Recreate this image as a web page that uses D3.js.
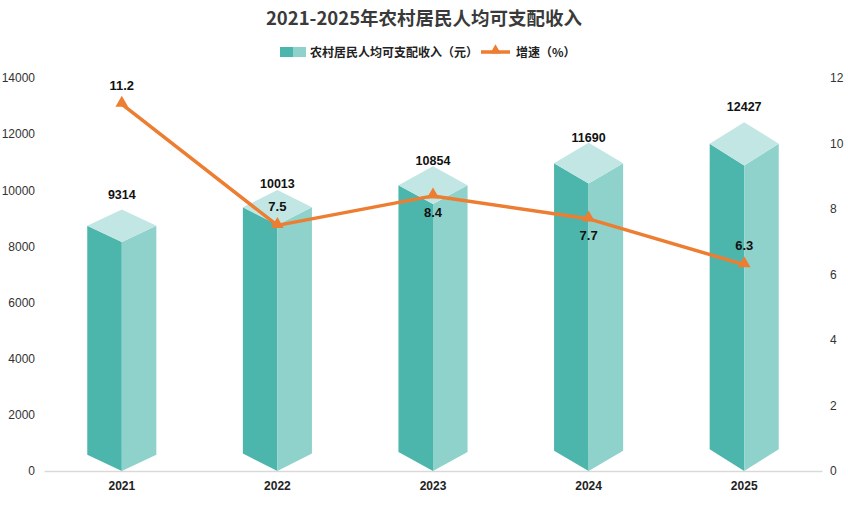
<!DOCTYPE html>
<html><head><meta charset="utf-8">
<script src="https://cdn.jsdelivr.net/npm/d3@7/dist/d3.min.js"></script>
<style>
body{margin:0;background:#fff;}
svg{display:block;}
text{font-family:"Liberation Sans","Noto Sans CJK SC",Arial,sans-serif;}
</style></head>
<body>
<svg id="chart" width="848" height="506"></svg>
<script>
const years = ["2021","2022","2023","2024","2025"];
const income = [9314, 10013, 10854, 11690, 12427];
const growth = [11.2, 7.5, 8.4, 7.7, 6.3];
const leftTicks = [0,2000,4000,6000,8000,10000,12000,14000];
const rightTicks = [0,2,4,6,8,10,12];
const growthLabelSide = ["top","top","bottom","bottom","top"];
const incomeLabelGap = [15,6,6,5,16];

const svg = d3.select("#chart");
const W = 848, H = 506;
const m = {left:44, right:26, top:78, bottom:35};
const x = d3.scaleBand().domain(years).range([m.left, W-m.right]).padding(0);
const yL = d3.scaleLinear().domain([0,14000]).range([H-m.bottom, m.top]);
const yR = d3.scaleLinear().domain([0,12]).range([H-m.bottom, m.top]);
const cx = d => x(d) + x.bandwidth()/2;

// title
svg.append("text").attr("x", W/2).attr("y", 25).attr("text-anchor","middle")
  .style("font-family","'Noto Sans CJK SC',sans-serif").style("font-weight","bold")
  .style("font-size","18.5px").attr("fill","#3a3a3a").text("2021-2025年农村居民人均可支配收入");

// legend
const lg = svg.append("g");
lg.append("rect").attr("x",280).attr("y",47).attr("width",13).attr("height",10).attr("fill","#4db6ac");
lg.append("rect").attr("x",293).attr("y",47).attr("width",13).attr("height",10).attr("fill","#8fd2cb");
lg.append("text").attr("x",310).attr("y",56.5).style("font-family","'Noto Sans CJK SC',sans-serif")
  .style("font-weight","bold").style("font-size","12px").attr("fill","#222").text("农村居民人均可支配收入（元）");
lg.append("line").attr("x1",481).attr("x2",510).attr("y1",52).attr("y2",52).attr("stroke","#ed7d31").attr("stroke-width",3.5);
lg.append("path").attr("d", d3.symbol(d3.symbolTriangle, 50)()).attr("transform","translate(495.5,50.5)").attr("fill","#ed7d31");
lg.append("text").attr("x",516).attr("y",56.5).style("font-family","'Noto Sans CJK SC',sans-serif")
  .style("font-weight","bold").style("font-size","12px").attr("fill","#222").text("增速（%）");

// axes
const axL = svg.append("g").attr("transform",`translate(${m.left},0)`)
  .call(d3.axisLeft(yL).tickValues(leftTicks).tickSize(0).tickPadding(9).tickFormat(d3.format("d")));
axL.select(".domain").remove();
axL.selectAll("text").style("font-size","12px").attr("fill","#333");
const axR = svg.append("g").attr("transform",`translate(${W-m.right},0)`)
  .call(d3.axisRight(yR).tickValues(rightTicks).tickSize(0).tickPadding(8));
axR.select(".domain").remove();
axR.selectAll("text").style("font-size","12px").attr("fill","#333");
const axB = svg.append("g").attr("transform",`translate(0,${H-m.bottom})`)
  .call(d3.axisBottom(x).tickSize(0).tickPadding(10));
axB.select(".domain").attr("stroke","#d9d9d9").attr("stroke-width",1.5);
axB.selectAll("text").style("font-size","12px").style("font-weight","bold").attr("fill","#222");

// 3D bars
const hw = x.bandwidth()*0.222;
const bars = svg.append("g");
years.forEach((yr,i) => {
  const c = cx(yr), y0 = yL(0), yt = yL(income[i]);
  const drop = (y0 - yt)*0.062;
  bars.append("path").attr("fill","#4db6ac")
    .attr("d",`M${c-hw},${yt+drop}L${c},${yt+2*drop}L${c},${y0}L${c-hw},${y0-drop}Z`);
  bars.append("path").attr("fill","#8fd2cb")
    .attr("d",`M${c},${yt+2*drop}L${c+hw},${yt+drop}L${c+hw},${y0-drop}L${c},${y0}Z`);
  bars.append("path").attr("fill","#c2e6e3")
    .attr("d",`M${c},${yt}L${c+hw},${yt+drop}L${c},${yt+2*drop}L${c-hw},${yt+drop}Z`);
  bars.append("text").attr("x",c).attr("y",yt-incomeLabelGap[i]).attr("dy","0.35em")
    .attr("text-anchor","middle").style("font-size","12.5px").style("font-weight","bold")
    .attr("fill","#111").text(income[i]);
});

// line
const line = d3.line().x((d,i)=>cx(years[i])).y(d=>yR(d));
svg.append("path").datum(growth).attr("d",line).attr("fill","none")
  .attr("stroke","#ed7d31").attr("stroke-width",3.5).attr("stroke-linejoin","round");
svg.selectAll(".mk").data(growth).enter().append("path")
  .attr("d", d3.symbol(d3.symbolTriangle, 70)())
  .attr("transform",(d,i)=>`translate(${cx(years[i])},${yR(d)-1})`).attr("fill","#ed7d31");
svg.selectAll(".gl").data(growth).enter().append("text")
  .attr("x",(d,i)=>cx(years[i]))
  .attr("y",(d,i)=>yR(d) + (growthLabelSide[i]==="top" ? -19 : 17)).attr("dy","0.35em")
  .attr("text-anchor","middle").style("font-size","13px").style("font-weight","bold")
  .attr("fill","#111").text(d=>d3.format(".1f")(d));
</script>
</body></html>
